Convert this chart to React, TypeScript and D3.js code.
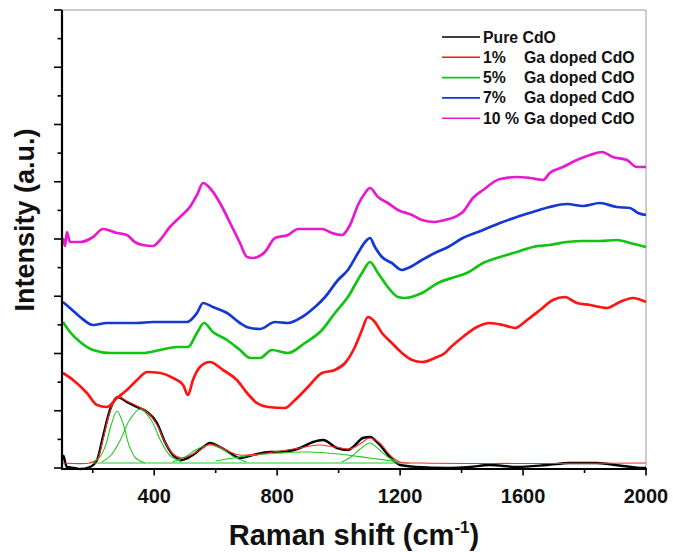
import React from 'react';
import * as d3 from 'd3';

// ---------- data (x: Raman shift in cm-1, y: intensity in a.u.) ----------
const X_DOMAIN: [number, number] = [100, 2000];
const Y_DOMAIN: [number, number] = [0, 458];
const X_MAJOR_TICKS = [400, 800, 1200, 1600, 2000];
const X_MINOR_TICKS = [200, 600, 1000, 1400, 1800];
const Y_MAJOR_COUNT = 8;

const pureCdO: [number, number][] = [
  [100, 8], [105, 12], [110, 6], [116, 1], [140, 0], [159, -1], [191, 1], [214, 8], [233, 31], [256, 58],
  [282, 71], [311, 66], [344, 61], [377, 56], [409, 45], [435, 26], [461, 13], [490, 8], [526, 13],
  [559, 21], [581, 25], [614, 21], [647, 15], [679, 10], [721, 13], [777, 16], [819, 16], [874, 20],
  [917, 26], [949, 28], [995, 20], [1030, 18], [1047, 21], [1079, 30], [1102, 31], [1134, 23],
  [1167, 11], [1200, 3], [1255, 1], [1352, 0], [1427, 1], [1492, 3], [1580, 1], [1678, 3], [1752, 5],
  [1840, 5], [1925, 2], [1990, 0], [2000, 0],
];

const ga1: [number, number][] = [
  [103, 95], [136, 88], [181, 75], [214, 63], [246, 61], [279, 70], [311, 78], [344, 88], [377, 96],
  [419, 95], [461, 90], [494, 83], [510, 73], [526, 88], [549, 101], [581, 106], [624, 98], [669, 88],
  [702, 75], [734, 65], [770, 61], [825, 60], [858, 68], [900, 81], [946, 95], [988, 98], [1021, 105],
  [1053, 121], [1076, 138], [1095, 151], [1118, 146], [1141, 135], [1173, 125], [1206, 115],
  [1239, 108], [1271, 106], [1313, 110], [1346, 115], [1362, 120], [1404, 131], [1450, 141],
  [1492, 145], [1535, 143], [1574, 140], [1613, 148], [1655, 158], [1697, 168], [1736, 171],
  [1775, 165], [1818, 163], [1873, 160], [1915, 166], [1957, 170], [2000, 166],
];

const ga5: [number, number][] = [
  [103, 146], [126, 136], [159, 126], [201, 118], [256, 115], [311, 115], [363, 115], [419, 118],
  [474, 121], [510, 121], [539, 135], [562, 145], [591, 136], [637, 128], [679, 118], [712, 110],
  [744, 110], [783, 118], [835, 115], [890, 125], [946, 138], [988, 155], [1030, 171], [1076, 195],
  [1102, 206], [1128, 195], [1160, 181], [1193, 171], [1216, 170], [1271, 175], [1323, 185],
  [1378, 191], [1417, 195], [1470, 205], [1525, 211], [1580, 216], [1632, 221], [1687, 223],
  [1743, 226], [1795, 227], [1850, 227], [1905, 228], [1948, 225], [2000, 221],
];

const ga7: [number, number][] = [
  [103, 166], [126, 160], [159, 151], [201, 143], [246, 145], [289, 145], [344, 145], [396, 146],
  [451, 146], [507, 146], [539, 155], [559, 165], [591, 161], [637, 155], [679, 145], [712, 140],
  [744, 139], [793, 146], [835, 145], [881, 151], [923, 161], [956, 171], [998, 188], [1030, 198],
  [1063, 215], [1086, 226], [1102, 230], [1118, 221], [1141, 211], [1173, 205], [1206, 198],
  [1226, 200], [1271, 208], [1313, 215], [1356, 221], [1404, 230], [1470, 238], [1525, 245],
  [1580, 251], [1632, 256], [1687, 261], [1743, 264], [1795, 262], [1850, 265], [1905, 261],
  [1948, 260], [1974, 255], [2000, 253],
];

const ga10: [number, number][] = [
  [103, 230], [110, 222], [116, 236], [126, 226], [159, 226], [201, 231], [233, 239], [279, 235],
  [311, 233], [337, 226], [363, 223], [396, 222], [419, 228], [451, 241], [484, 251], [516, 261],
  [539, 273], [559, 285], [581, 280], [614, 265], [647, 245], [679, 225], [702, 211], [721, 210],
  [760, 216], [793, 230], [835, 233], [868, 239], [913, 239], [946, 239], [978, 235], [1011, 233],
  [1037, 243], [1063, 263], [1086, 275], [1102, 280], [1128, 271], [1160, 265], [1193, 258],
  [1239, 253], [1271, 248], [1313, 246], [1346, 248], [1378, 251], [1404, 256], [1437, 270],
  [1470, 278], [1525, 289], [1580, 291], [1622, 290], [1665, 288], [1687, 295], [1730, 301],
  [1775, 308], [1818, 313], [1857, 316], [1892, 311], [1938, 308], [1970, 301], [2000, 301],
];

// cumulative fit of the pure CdO spectrum
const fitTotal: [number, number][] = [
  [100, 5], [191, 5], [214, 8], [233, 28], [256, 56], [279, 71], [311, 67], [344, 62], [377, 56],
  [409, 43], [435, 26], [461, 14], [490, 10], [526, 14], [559, 20], [581, 24], [614, 21], [647, 16],
  [679, 13], [744, 14], [809, 17], [874, 20], [933, 23], [988, 21], [1037, 19], [1069, 24],
  [1102, 30], [1134, 25], [1167, 13], [1200, 6], [1265, 5], [2000, 5],
];

// fitted peak components
const peak1: [number, number][] = [
  [190, 5], [220, 10], [240, 21], [260, 43], [279, 57], [300, 43], [320, 21], [340, 10], [370, 5],
];
const peak2: [number, number][] = [
  [230, 6], [260, 13], [290, 28], [320, 48], [354, 59], [390, 48], [420, 28], [450, 13], [490, 6],
];
const peak3: [number, number][] = [
  [460, 6], [500, 11], [540, 19], [580, 23], [620, 19], [660, 11], [700, 6],
];
const peak4: [number, number][] = [
  [600, 7], [700, 12], [800, 15], [900, 16], [1000, 14], [1100, 10], [1200, 6],
];
const peak5: [number, number][] = [
  [1010, 6], [1040, 11], [1070, 19], [1102, 25], [1130, 19], [1160, 11], [1190, 6],
];
const peakBaseline: [number, number][] = [[200, 5], [1230, 5]];

const legendPrefixes = ['', '1%', '5%', '7%', '10 %'];
const legendNames = ['Pure CdO', 'Ga doped CdO', 'Ga doped CdO', 'Ga doped CdO', 'Ga doped CdO'];
const seriesColors = ['#000000', '#ff1414', '#12c412', '#1438d0', '#e81ad0'];
const seriesData = [pureCdO, ga1, ga5, ga7, ga10];

const X_TITLE = 'Raman shift (cm';
const Y_TITLE = 'Intensity (a.u.)';

export default function App() {
  const W = 673;
  const H = 552;
  const left = 62;
  const right = 646;
  const top = 10;
  const bottom = 468;

  const x = d3.scaleLinear().domain(X_DOMAIN).range([left, right]);
  const y = d3.scaleLinear().domain(Y_DOMAIN).range([bottom, top]);

  const dataLine = d3
    .line<[number, number]>()
    .x((d) => x(d[0]))
    .y((d) => y(d[1]))
    .curve(d3.curveMonotoneX);
  const smoothLine = d3
    .line<[number, number]>()
    .x((d) => x(d[0]))
    .y((d) => y(d[1]))
    .curve(d3.curveCatmullRom.alpha(0.5));

  const yStep = (Y_DOMAIN[1] - Y_DOMAIN[0]) / Y_MAJOR_COUNT;
  const yMajor = d3.range(Y_MAJOR_COUNT + 1).map((i) => i * yStep);
  const yMinor = d3.range(Y_MAJOR_COUNT).map((i) => (i + 0.5) * yStep);

  const font = "'Liberation Sans', Arial, Helvetica, sans-serif";
  const axisY = bottom + 1;

  const legendX = 442;
  const legendY0 = 37;
  const legendDy = 20.3;

  return (
    <svg
      width={W}
      height={H}
      style={{ position: 'absolute', left: 0, top: 0, background: '#fff' }}
      fontFamily={font}
    >
      <rect x={0} y={0} width={W} height={H} fill="#fff" />
      {/* frame top/right */}
      <line x1={left} x2={right} y1={top} y2={top} stroke="#9a9a9a" strokeWidth={1} />
      <line x1={right} x2={right} y1={top} y2={axisY} stroke="#9a9a9a" strokeWidth={1} />

      {/* pure CdO data */}
      <path d={dataLine(pureCdO) || ''} fill="none" stroke={seriesColors[0]} strokeWidth={2.4} />
      {/* fitted components */}
      {[peak1, peak2, peak3, peak4, peak5, peakBaseline].map((p, i) => (
        <path key={'pk' + i} d={smoothLine(p) || ''} fill="none" stroke="#22c822" strokeWidth={1.1} />
      ))}
      <path d={smoothLine(fitTotal) || ''} fill="none" stroke="#ff2a2a" strokeWidth={1.1} />

      {/* doped spectra */}
      {seriesData.slice(1).map((s, i) => (
        <path
          key={'s' + i}
          d={dataLine(s) || ''}
          fill="none"
          stroke={seriesColors[i + 1]}
          strokeWidth={2.7}
          strokeLinejoin="round"
        />
      ))}

      {/* axes */}
      <line x1={left} x2={left} y1={top} y2={axisY + 1} stroke="#000" strokeWidth={2.2} />
      <line x1={left - 1} x2={right + 1} y1={axisY} y2={axisY} stroke="#000" strokeWidth={2.2} />
      {yMajor.map((v, i) => (
        <line key={'ym' + i} x1={left - 8} x2={left} y1={y(v)} y2={y(v)} stroke="#000" strokeWidth={1.6} />
      ))}
      {yMinor.map((v, i) => (
        <line key={'yn' + i} x1={left - 4.5} x2={left} y1={y(v)} y2={y(v)} stroke="#000" strokeWidth={1.6} />
      ))}
      {X_MAJOR_TICKS.map((v) => (
        <g key={'xm' + v}>
          <line x1={x(v)} x2={x(v)} y1={axisY} y2={axisY + 6.5} stroke="#000" strokeWidth={1.6} />
          <text x={x(v)} y={503} textAnchor="middle" fontSize={20} fontWeight="bold" fill="#111">
            {v}
          </text>
        </g>
      ))}
      {X_MINOR_TICKS.map((v) => (
        <line key={'xn' + v} x1={x(v)} x2={x(v)} y1={axisY} y2={axisY + 4} stroke="#000" strokeWidth={1.6} />
      ))}

      {/* axis titles */}
      <text x={(left + right) / 2} y={545} textAnchor="middle" fontSize={29} fontWeight="bold" fill="#111">
        {X_TITLE}
        <tspan fontSize={17} dy={-12}>-1</tspan>
        <tspan dy={12}>)</tspan>
      </text>
      <text
        transform={`translate(34, 220) rotate(-90)`}
        textAnchor="middle"
        fontSize={27}
        fontWeight="bold"
        fill="#111"
      >
        {Y_TITLE}
      </text>

      {/* legend */}
      {legendNames.map((name, i) => {
        const ly = legendY0 + i * legendDy;
        return (
          <g key={'lg' + i}>
            <line x1={legendX} x2={legendX + 38} y1={ly} y2={ly} stroke={seriesColors[i]} strokeWidth={1.6} />
            {legendPrefixes[i] === '' ? (
              <text x={legendX + 41} y={ly + 5.5} fontSize={15.8} fontWeight="bold" fill="#111">
                {name}
              </text>
            ) : (
              <text y={ly + 5.5} fontSize={15.8} fontWeight="bold" fill="#111">
                <tspan x={legendX + 41}>{legendPrefixes[i]}</tspan>
                <tspan x={524}>{name}</tspan>
              </text>
            )}
          </g>
        );
      })}
    </svg>
  );
}
